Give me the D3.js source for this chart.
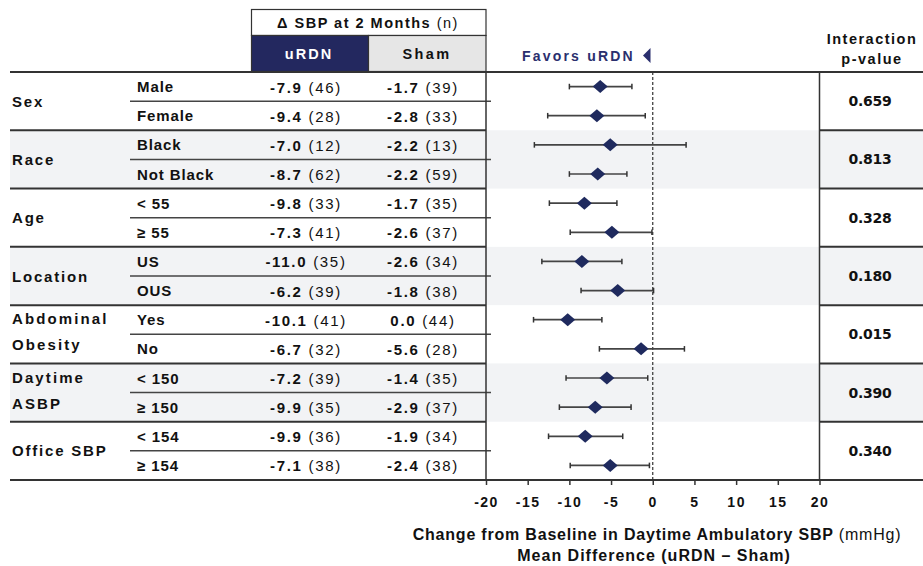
<!DOCTYPE html>
<html>
<head>
<meta charset="utf-8">
<script src="https://cdn.jsdelivr.net/npm/d3@7"></script>
<style>
  html, body { margin: 0; padding: 0; background: #fff; }
  svg { display: block; }
  text { font-family: "Liberation Sans", Arial, sans-serif; fill: #111; }
</style>
</head>
<body>
<svg id="chart" width="923" height="566"></svg>
<script>
// ---------------- data ----------------
const groups = ["Sex", "Race", "Age", "Location", "Abdominal|Obesity", "Daytime|ASBP", "Office SBP"];
const subgroups = ["Male", "Female", "Black", "Not Black", "< 55", "\u2265 55", "US", "OUS", "Yes", "No", "< 150", "\u2265 150", "< 154", "\u2265 154"];
const urdnMean = [-7.9, -9.4, -7.0, -8.7, -9.8, -7.3, -11.0, -6.2, -10.1, -6.7, -7.2, -9.9, -9.9, -7.1];
const urdnN    = [46, 28, 12, 62, 33, 41, 35, 39, 41, 32, 39, 35, 36, 38];
const shamMean = [-1.7, -2.8, -2.2, -2.2, -1.7, -2.6, -2.6, -1.8, 0.0, -5.6, -1.4, -2.9, -1.9, -2.4];
const shamN    = [39, 33, 13, 59, 35, 37, 34, 38, 44, 28, 35, 37, 34, 38];
const diffMean = [-6.3, -6.7, -5.1, -6.6, -8.2, -4.9, -8.5, -4.2, -10.2, -1.4, -5.5, -6.9, -8.1, -5.1];
const ciLow    = [-10.0, -12.6, -14.2, -10.0, -12.4, -9.9, -13.3, -8.6, -14.3, -6.4, -10.4, -11.2, -12.5, -9.9];
const ciHigh   = [-2.5, -0.9, 4.0, -3.1, -4.3, -0.1, -3.7, 0.1, -6.1, 3.8, -0.6, -2.6, -3.6, -0.4];
const pValues  = ["0.659", "0.813", "0.328", "0.180", "0.015", "0.390", "0.340"];
const xTicks   = [-20, -15, -10, -5, 0, 5, 10, 15, 20];

// ---------------- layout ----------------
const svg = d3.select("#chart");
const L = 10, R = 923;
const plotL = 486, plotR = 819.5;
const yTop = 72, yBottom = 480;
const navy = "#23285f";

const x = d3.scaleLinear().domain([-20, 20]).range([plotL, plotR]);
const y = d3.scaleLinear().domain([0, subgroups.length]).range([yTop, yBottom]);
const rowsPerGroup = 2;

// shading for alternate groups
groups.forEach((g, gi) => {
  if (gi % 2 === 1) {
    svg.append("rect")
      .attr("x", L).attr("y", y(gi * rowsPerGroup))
      .attr("width", R - L).attr("height", y((gi + 1) * rowsPerGroup) - y(gi * rowsPerGroup))
      .attr("fill", "#f2f3f5");
  }
});

// header boxes
svg.append("rect").attr("x", 251.5).attr("y", 9.5).attr("width", 234.5).attr("height", 26)
  .attr("fill", "#fff").attr("stroke", "#333").attr("stroke-width", 1.2);
svg.append("rect").attr("x", 251.5).attr("y", 35.5).attr("width", 117).attr("height", 36)
  .attr("fill", navy).attr("stroke", "#333").attr("stroke-width", 1.2);
svg.append("rect").attr("x", 368.5).attr("y", 35.5).attr("width", 117.5).attr("height", 36)
  .attr("fill", "#e6e6e6").attr("stroke", "#333").attr("stroke-width", 1.2);

const hdr = svg.append("text").attr("x", 368).attr("y", 23).attr("text-anchor", "middle")
  .attr("dominant-baseline", "central").style("font-size", "14.5px").style("letter-spacing", "1.5px");
hdr.append("tspan").style("font-weight", "bold").text("\u0394 SBP at 2 Months ");
hdr.append("tspan").text("(n)");

svg.append("text").attr("x", 309).attr("y", 54).attr("text-anchor", "middle")
  .attr("dominant-baseline", "central").style("font-size", "14.5px").style("font-weight", "bold")
  .style("letter-spacing", "2px").style("fill", "#fff").text("uRDN");
svg.append("text").attr("x", 427).attr("y", 54).attr("text-anchor", "middle")
  .attr("dominant-baseline", "central").style("font-size", "14.5px").style("font-weight", "bold")
  .style("letter-spacing", "2.4px").text("Sham");

// Favors uRDN
svg.append("text").attr("x", 522).attr("y", 56).attr("dominant-baseline", "central")
  .style("font-size", "14px").style("font-weight", "bold").style("letter-spacing", "2.2px")
  .style("fill", "#2a2f6e").text("Favors uRDN");
svg.append("path").attr("d", "M643,55.5 L650.5,48 L650.5,63 Z").attr("fill", "#2a2f6e");

// Interaction p-value header
svg.append("text").attr("x", 872).attr("y", 39).attr("text-anchor", "middle")
  .attr("dominant-baseline", "central").style("font-size", "14.5px").style("font-weight", "bold")
  .style("letter-spacing", "1.5px").text("Interaction");
svg.append("text").attr("x", 872).attr("y", 59).attr("text-anchor", "middle")
  .attr("dominant-baseline", "central").style("font-size", "14.5px").style("font-weight", "bold")
  .style("letter-spacing", "1.5px").text("p-value");

// group labels, dividers, p-values
groups.forEach((g, gi) => {
  const y0 = y(gi * rowsPerGroup), y1 = y((gi + 1) * rowsPerGroup);
  const cy = (y0 + y1) / 2;
  const lines = g.split("|");
  const t = svg.append("text").attr("x", 12).style("font-size", "15px").style("font-weight", "bold")
    .style("letter-spacing", lines.length > 1 ? "2.1px" : "1.8px");
  lines.forEach((ln, li) => {
    t.append("tspan").attr("x", 12)
      .attr("y", cy - (lines.length > 1 ? 2.5 : 0) + (li - (lines.length - 1) / 2) * 26)
      .attr("dominant-baseline", "central").text(ln);
  });
  svg.append("text").attr("x", 870).attr("y", cy).attr("text-anchor", "middle")
    .attr("dominant-baseline", "central")
    .style("font-family", "'DejaVu Sans', Verdana, sans-serif")
    .style("font-size", "14px").style("font-weight", "bold").style("letter-spacing", "-0.3px")
    .text(pValues[gi]);
  // sub-row divider (table only)
  svg.append("line").attr("x1", 130).attr("x2", plotL + 5)
    .attr("y1", (y0 + y1) / 2).attr("y2", (y0 + y1) / 2)
    .attr("stroke", "#444").attr("stroke-width", 1.5);
  if (gi > 0) {
    svg.append("line").attr("x1", L).attr("x2", plotL).attr("y1", y0).attr("y2", y0)
      .attr("stroke", "#333").attr("stroke-width", 2);
    svg.append("line").attr("x1", plotR).attr("x2", R).attr("y1", y0).attr("y2", y0)
      .attr("stroke", "#333").attr("stroke-width", 2);
  }
});

// subgroup rows
subgroups.forEach((s, i) => {
  const cy = y(i + 0.5);
  svg.append("text").attr("x", 137).attr("y", cy).attr("dominant-baseline", "central")
    .style("font-size", "15px").style("font-weight", "bold").style("letter-spacing", "0.9px").text(s);
  const a = svg.append("text").attr("x", 306).attr("y", cy).attr("text-anchor", "middle")
    .attr("dominant-baseline", "central").style("font-size", "15px").style("letter-spacing", "1.7px");
  a.append("tspan").style("font-weight", "bold").text(urdnMean[i].toFixed(1));
  a.append("tspan").text(" (" + urdnN[i] + ")");
  const b = svg.append("text").attr("x", 423).attr("y", cy).attr("text-anchor", "middle")
    .attr("dominant-baseline", "central").style("font-size", "15px").style("letter-spacing", "1.7px");
  b.append("tspan").style("font-weight", "bold").text(shamMean[i].toFixed(1));
  b.append("tspan").text(" (" + shamN[i] + ")");
});

// vertical borders
svg.append("line").attr("x1", plotL).attr("x2", plotL).attr("y1", yTop).attr("y2", yBottom)
  .attr("stroke", "#333").attr("stroke-width", 1.5);
svg.append("line").attr("x1", plotR).attr("x2", plotR).attr("y1", yTop).attr("y2", yBottom)
  .attr("stroke", "#333").attr("stroke-width", 1.5);

// zero reference
svg.append("line").attr("x1", x(0)).attr("x2", x(0)).attr("y1", yTop).attr("y2", yBottom)
  .attr("stroke", "#333").attr("stroke-width", 1.2).attr("stroke-dasharray", "3,2");

// error bars + diamonds
const rows = svg.append("g");
subgroups.forEach((s, i) => {
  const cy = y(i + 0.5);
  rows.append("line").attr("x1", x(ciLow[i])).attr("x2", x(ciHigh[i])).attr("y1", cy).attr("y2", cy)
    .attr("stroke", "#444").attr("stroke-width", 1.7);
  [ciLow[i], ciHigh[i]].forEach(v => {
    rows.append("line").attr("x1", x(v)).attr("x2", x(v)).attr("y1", cy - 2.8).attr("y2", cy + 2.8)
      .attr("stroke", "#333").attr("stroke-width", 1.5);
  });
  const cx = x(diffMean[i]);
  rows.append("path")
    .attr("d", `M${cx - 7.5},${cy} L${cx},${cy - 6.5} L${cx + 7.5},${cy} L${cx},${cy + 6.5} Z`)
    .attr("fill", "#1f2a5e");
});

// top line
svg.append("line").attr("x1", L).attr("x2", R).attr("y1", yTop).attr("y2", yTop)
  .attr("stroke", "#333").attr("stroke-width", 2);

// x axis
const axis = svg.append("g").attr("transform", `translate(0,${yBottom})`)
  .call(d3.axisBottom(x).tickValues(xTicks).tickSize(5).tickPadding(12).tickFormat(d3.format("d")));
axis.select(".domain").remove();
axis.selectAll(".tick line").attr("stroke", "#333").attr("stroke-width", 1.5);
axis.selectAll(".tick text").style("font-family", "'Liberation Sans', Arial, sans-serif")
  .style("font-size", "14px").style("font-weight", "bold").style("letter-spacing", "1.5px")
  .attr("fill", "#111").text(d => d3.format("d")(d).replace("\u2212", "-"));
svg.append("line").attr("x1", L).attr("x2", R).attr("y1", yBottom).attr("y2", yBottom)
  .attr("stroke", "#333").attr("stroke-width", 2);

// axis title
const t1 = svg.append("text").attr("x", 657).attr("y", 534).attr("text-anchor", "middle")
  .attr("dominant-baseline", "central").style("font-size", "16px").style("letter-spacing", "0.8px");
t1.append("tspan").style("font-weight", "bold").text("Change from Baseline in Daytime Ambulatory SBP ");
t1.append("tspan").text("(mmHg)");
svg.append("text").attr("x", 654).attr("y", 555).attr("text-anchor", "middle")
  .attr("dominant-baseline", "central").style("font-size", "16px").style("font-weight", "bold")
  .style("letter-spacing", "1px").text("Mean Difference (uRDN \u2013 Sham)");
</script>
</body>
</html>
